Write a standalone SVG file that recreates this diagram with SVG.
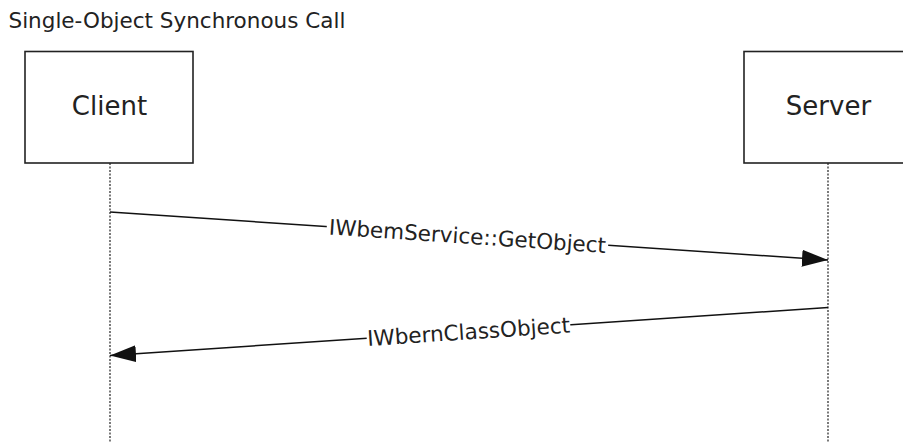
<svg xmlns="http://www.w3.org/2000/svg" width="903" height="443" viewBox="0 0 903 443">
<style>
.box{fill:#fff;stroke:#222;stroke-width:1.6}
.life{stroke:#222;stroke-width:1.2;stroke-dasharray:2,1.5;fill:none}
.msg{stroke:#111;stroke-width:1.5;fill:none}
.t{font-family:"DejaVu Sans",Verdana,sans-serif;fill:#222}
.node{font-size:26px;text-anchor:middle}
.lbl{font-size:21.5px;text-anchor:middle}
.bg{fill:#fff}
</style>
<defs>
<marker id="ah" markerUnits="userSpaceOnUse" markerWidth="28" markerHeight="20" refX="26" refY="8.5" orient="auto">
<path d="M0,0 L26,8.5 L0,17 Z" fill="#111"/>
</marker>
</defs>
<text class="t" x="8.5" y="28" font-size="21.5">Single-Object Synchronous Call</text>
<g id="client">
<line class="life" x1="110" y1="163" x2="110" y2="443"/>
<rect class="box" x="25" y="51.5" width="168" height="111.5"/>
<text class="t node" x="109.5" y="115">Client</text>
</g>
<g id="server">
<line class="life" x1="828" y1="163" x2="828" y2="443"/>
<rect class="box" x="744" y="51.5" width="168" height="111.5"/>
<text class="t node" x="828.5" y="115">Server</text>
</g>
<g id="connectors">
<line class="msg" x1="110" y1="212" x2="828" y2="260" marker-end="url(#ah)"/>
<g transform="translate(467.5,235.9) rotate(3.82)">
<rect class="bg" x="-141" y="-9" width="282" height="18"/>
<text class="t lbl" x="0" y="7.8">IWbemService::GetObject</text>
</g>
<line class="msg" x1="828" y1="307.5" x2="110" y2="355.5" marker-end="url(#ah)"/>
<g transform="translate(468.5,331.5) rotate(-3.82)">
<rect class="bg" x="-102" y="-9" width="204" height="18"/>
<text class="t lbl" x="0" y="7.8">IWbernClassObject</text>
</g>
</g>
</svg>
